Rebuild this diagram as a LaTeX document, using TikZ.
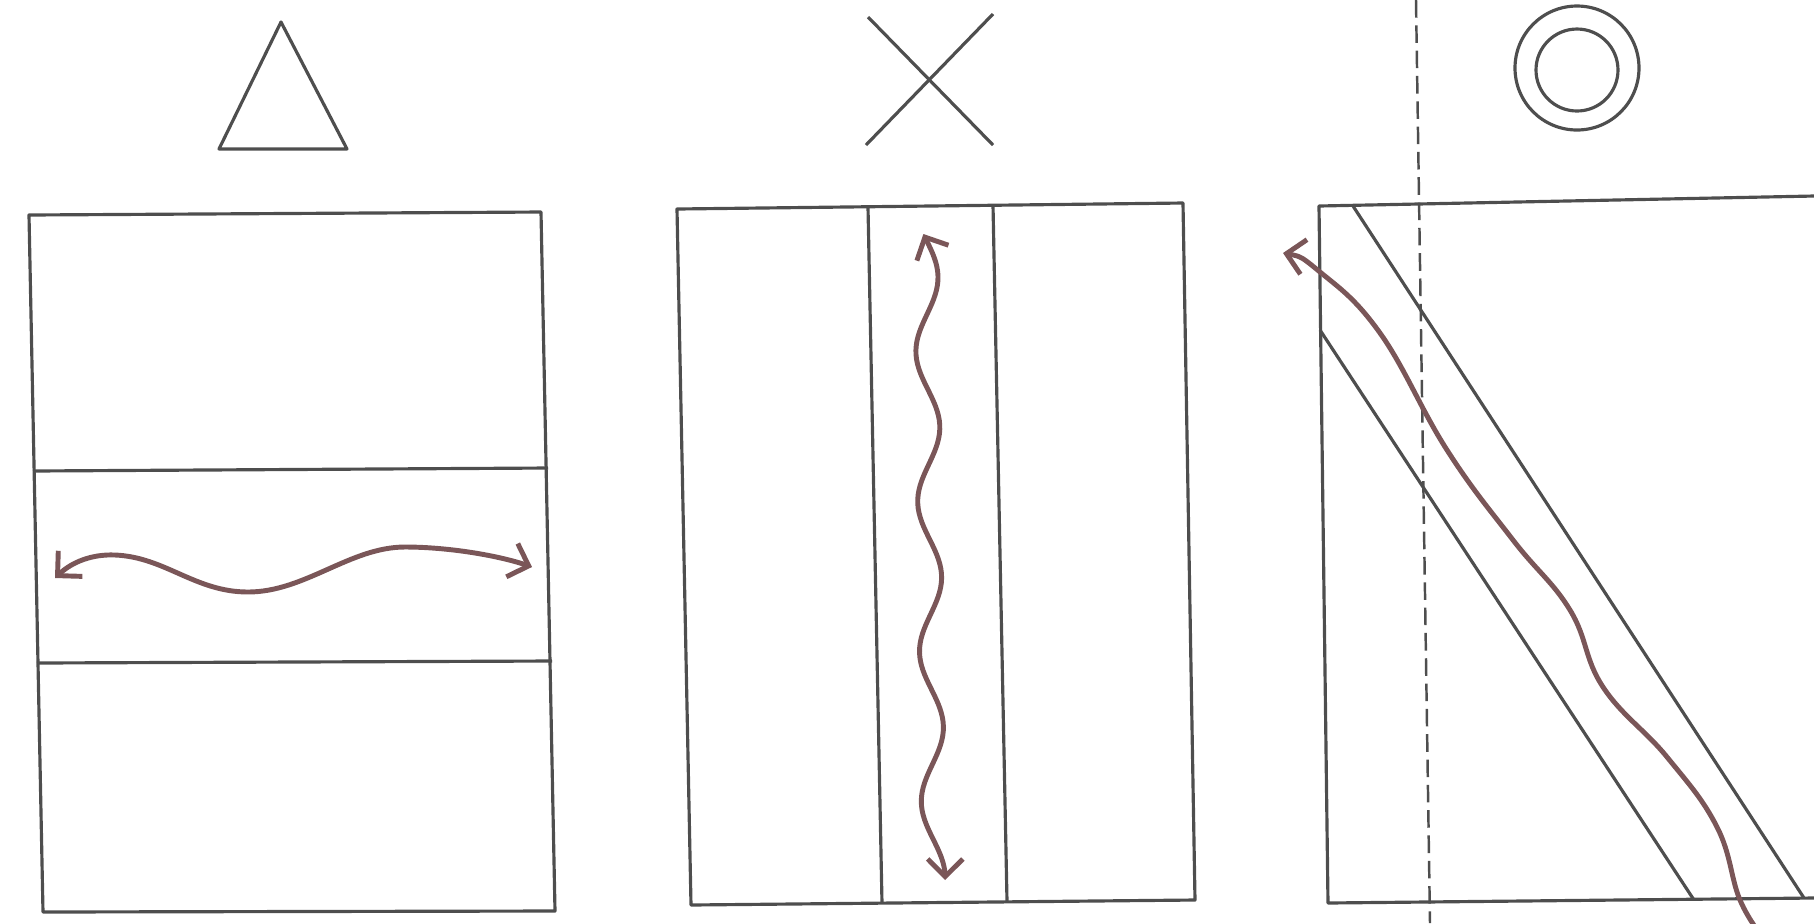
\documentclass[tikz,border=0pt]{standalone}
\usepackage{tikz}
\usetikzlibrary{arrows.meta}
\definecolor{inkgray}{RGB}{78,78,78}
\definecolor{wavebrown}{RGB}{122,86,88}

\begin{document}
\begin{tikzpicture}[x=0.01cm, y=-0.01cm,
    >={Straight Barb[length=5pt,width=10pt]},
    frame/.style={inkgray, line width=0.9pt, line join=round},
    wave/.style={wavebrown, line width=1.4pt, line cap=round}]
        \useasboundingbox (0,0) rectangle (1814,923);
        \clip (0,0) rectangle (1814,923);

        % --- Triangle panel ---
        \draw[frame] (281,22) -- (347,149) -- (219,149) -- cycle;
        \draw[frame] (29,215) -- (541,212) -- (555,911) -- (43,912) -- cycle;
        \draw[frame] (33,471) -- (548,468);
        \draw[frame] (37,663) -- (552,661);
        \draw[wave,<->] (55,578) .. controls (72,562) and (92,554) .. (115,555)
          .. controls (165,557) and (195,592) .. (248,592)
          .. controls (305,592) and (350,547) .. (405,547)
          .. controls (450,547) and (500,556) .. (532,567);

        % --- Cross panel ---
        \draw[frame] (866,145) -- (993,14);
        \draw[frame] (868,17) -- (993,145);
        \draw[frame] (677,209) -- (1183,203) -- (1195,900) -- (691,905) -- cycle;
        \draw[frame] (868,207) -- (882,903);
        \draw[frame] (993,205) -- (1007,901);
        \draw[wave,<->] plot[domain=234:880, samples=140, variable=\t]
          ({926 + 0.012*(\t-234) + 11.5*sin((\t-234)/150*360 - 13)}, {\t});

        % --- Double circle panel ---
        \draw[frame] (1577,68) circle[radius=62];
        \draw[frame] (1577,70) circle[radius=41];
        \draw[frame] (1814,196) -- (1319,206) -- (1328,903) -- (1814,898);
        \draw[frame] (1353,206) -- (1804,898);
        \draw[frame] (1320,330) -- (1694,900);
        \draw[inkgray, line width=0.7pt, dash pattern=on 5pt off 2.2pt]
          (1416,0) -- (1430,923);
        \draw[wave,<-] plot[smooth, tension=0.7] coordinates
          {(1283,253) (1320,272) (1380,333) (1447,450) (1513,540) (1570,610)
           (1603,687) (1667,757) (1717,827) (1740,900) (1765,940)};
      \end{tikzpicture}
\end{document}
